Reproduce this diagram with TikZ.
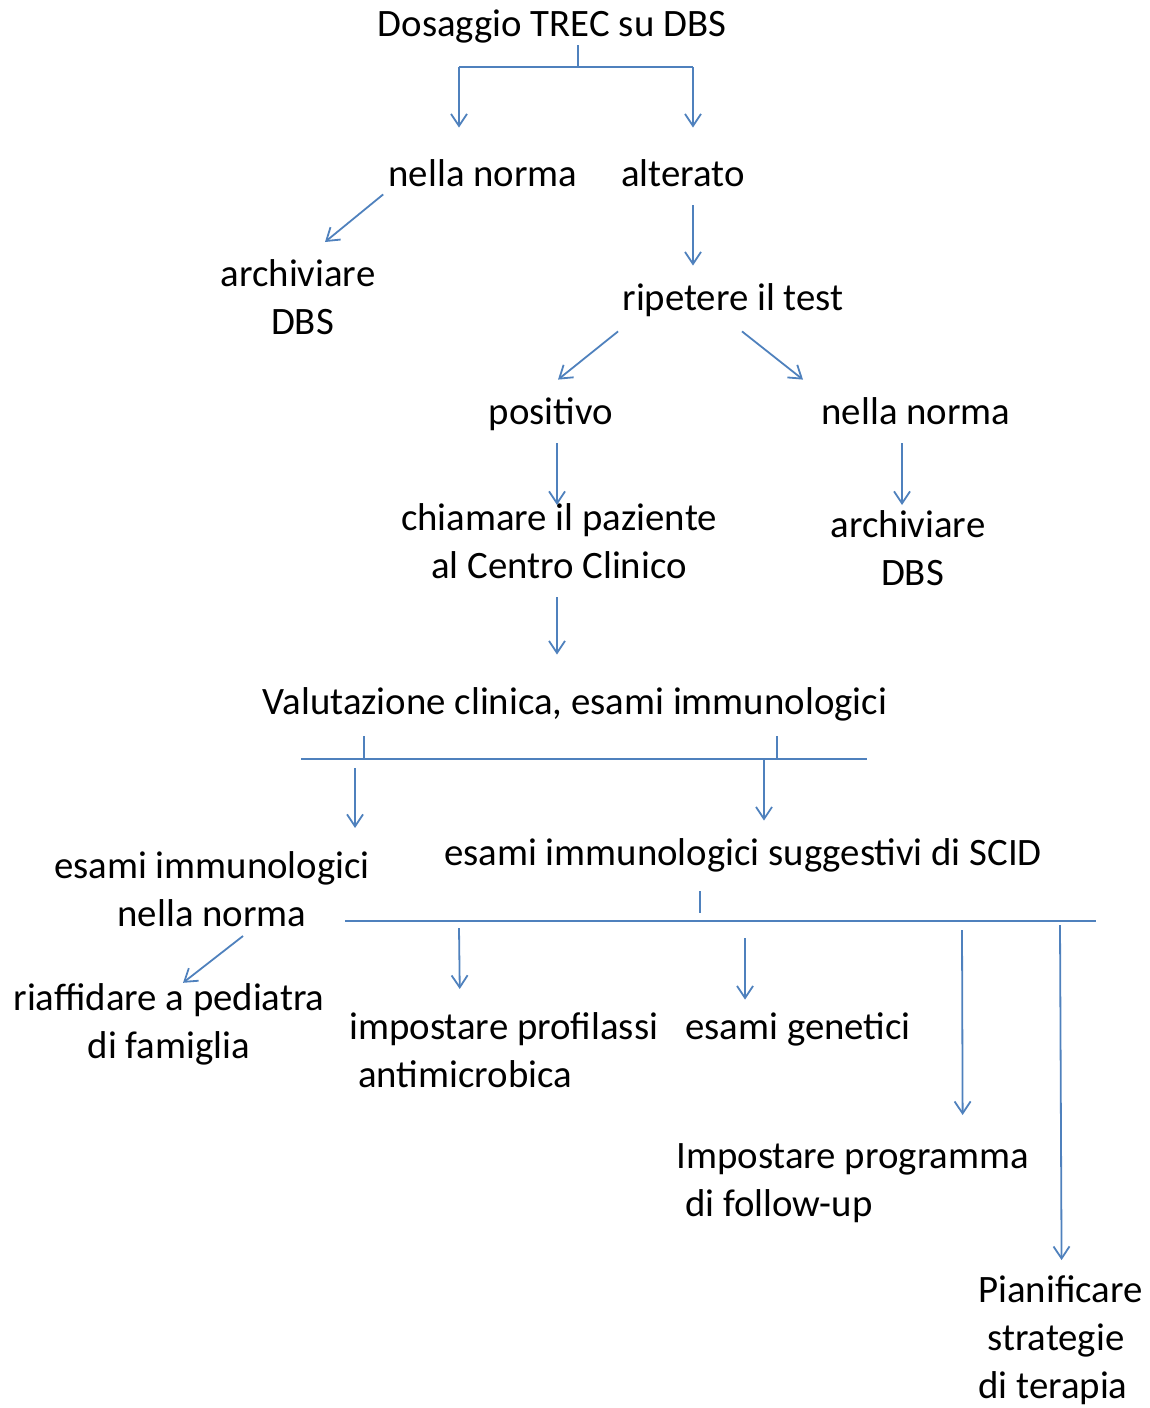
\documentclass[tikz,border=0pt]{standalone}
\usepackage{fontspec}
\setmainfont{Carlito}
\usetikzlibrary{arrows.meta,calc}
\definecolor{flowblue}{RGB}{79,129,189}

\begin{document}
\begin{tikzpicture}[x=0.5pt,y=-0.5pt,
		every node/.style={inner sep=0pt,font=\fontsize{19.4}{24}\selectfont},
		lbl/.style={text height=13pt,text depth=4pt},
		conn/.style={draw=flowblue,line width=0.9pt},
		arr/.style={conn,-{Straight Barb[length=6pt,width=8pt]}}]

		\useasboundingbox (0,0) rectangle (1150,1408);

		\node[lbl] (dos)    at (552,27)  {Dosaggio TREC su DBS};
		\node[lbl] (norma1) at (483,177) {nella norma};
		\node[lbl] (alt)    at (683,177) {alterato};
		\node[align=center] (arch1) at (298,297) {archiviare\\\hspace*{.23em}DBS};
		\node[lbl] (rip)    at (733,301) {ripetere il test};
		\node[lbl] (pos)    at (551,415) {positivo};
		\node[lbl] (norma2) at (916,415) {nella norma};
		\node[align=center] (chiam) at (559,541) {chiamare il paziente\\al Centro Clinico};
		\node[align=center] (arch2) at (908,548) {archiviare\\\hspace*{.23em}DBS};
		\node[lbl] (val)    at (575,705) {Valutazione clinica, esami immunologici};
		\node[align=center] (esn)   at (212,889) {esami immunologici\\nella norma};
		\node[lbl] (sugg)   at (743,856) {esami immunologici suggestivi di SCID};
		\node[align=center] (riaf)  at (169,1024) {riaffidare a pediatra\\di famiglia};
		\node[align=left,anchor=west] (prof) at (349,1050) {impostare profilassi\\\hspace*{.23em}antimicrobica};
		\node[lbl] (gen)    at (798,1030) {esami genetici};
		\node[align=left,anchor=west] (prog) at (676,1183) {Impostare programma\\\hspace*{.23em}di follow-up};
		\node[align=left,anchor=west] (pian) at (978,1340) {Pianificare\\\hspace*{.23em}strategie\\di terapia};

		% first split
		\coordinate (b1)  at (578,67);
		\coordinate (b1l) at (459,67);
		\coordinate (b1r) at (693,67);
		\draw[conn] ($(dos.south)+(26,1)$) -- (b1);
		\draw[conn] (b1l) -- (b1r);
		\draw[arr] (b1l) -- ($(norma1.north)+(-24,-32)$);
		\draw[arr] (b1r) -- ($(alt.north)+(10,-32)$);

		\draw[arr] ($(norma1.south west)+(-5,0)$) -- ($(arch1.north)+(27,-17)$);
		\draw[arr] ($(alt.south)+(10,11)$) -- ($(rip.north)+(-40,-18)$);
		\draw[arr] ($(rip.south west)+(-4,13)$) -- ($(pos.north)+(7,-18)$);
		\draw[arr] ($(rip.south)+(9,13)$) -- ($(norma2.north)+(-113,-18)$);
		\draw[arr] ($(pos.south)+(6,11)$) -- ($(chiam.north)+(-2,2)$);
		\draw[arr] ($(norma2.south)+(-14,11)$) -- ($(arch2.north)+(-6,-5)$);
		\draw[arr] ($(chiam.south)+(-2,18)$) -- ($(val.north)+(-18,-33)$);

		% clinical evaluation
		\coordinate (b2l) at (301,759);
		\coordinate (b2r) at (867,759);
		\coordinate (b2a) at (364,759);
		\coordinate (b2b) at (777,759);
		\coordinate (b2c) at (764,759);
		\coordinate (b2d) at (355,768);
		\draw[conn] (b2l) -- (b2r);
		\draw[conn] (b2a |- 0,736) -- (b2a);
		\draw[conn] (b2b |- 0,736) -- (b2b);
		\draw[arr] (b2d) -- ($(esn.north)+(143,-23)$);
		\draw[arr] (b2c) -- ($(sugg.north)+(21,-18)$);

		\draw[arr] ($(esn.south)+(31,9)$) -- ($(riaf.north)+(14,0)$);

		% SCID branch
		\coordinate (b3)  at (700,913);
		\coordinate (b3l) at (345,921);
		\coordinate (b3r) at (1096,921);
		\draw[conn] ($(sugg.south)+(-43,18)$) -- (b3);
		\draw[conn] (b3l) -- (b3r);
		\draw[arr] (459,928) -- ($(prof.north)+(-44,-23)$);
		\draw[arr] (745,938) -- ($(gen.north)+(-53,-13)$);
		\draw[arr] (962,930) -- ($(prog.north)+(110,-28)$);
		\draw[arr] (1060,925) -- ($(pian.north)+(1,-15)$);

\end{tikzpicture}
\end{document}
